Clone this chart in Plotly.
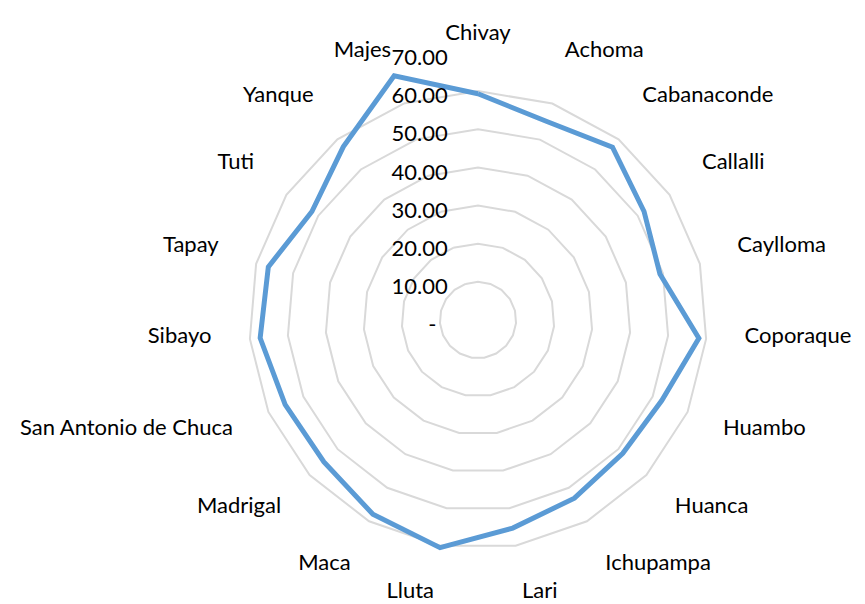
import plotly.graph_objects as go

distritos = ["Chivay", "Achoma", "Cabanaconde", "Callalli", "Caylloma", "Coporaque",
             "Huambo", "Huanca", "Ichupampa", "Lari", "Lluta", "Maca", "Madrigal",
             "San Antonio de Chuca", "Sibayo", "Tapay", "Tuti", "Yanque", "Majes"]
valores = [59.3, 55.1, 57.4, 52.0, 49.2, 58.1, 52.6, 51.6, 53.1, 55.3,
           60.5, 57.9, 54.9, 55.2, 57.3, 56.7, 52.0, 57.5, 67.7]
tick_vals = [0, 10, 20, 30, 40, 50, 60, 70]
tick_text = ["-\u00a0\u00a0", "10.00", "20.00", "30.00", "40.00", "50.00", "60.00", "70.00"]

# close the loop
r = valores + valores[:1]
theta = distritos + distritos[:1]

fig = go.Figure()
fig.add_trace(go.Scatterpolar(r=r, theta=theta, mode="lines",
                              line=dict(color="#5B9BD5", width=5)))
# extra polars only carry labels, nudged like Excel does (categories up, values down)
for sp in ["polar2", "polar3"]:
    fig.add_trace(go.Scatterpolar(r=valores, theta=distritos, mode="lines", subplot=sp,
                                  line=dict(width=0), opacity=0, hoverinfo="skip"))

ang_common = dict(direction="clockwise", rotation=90, showline=False, showgrid=False)
dom_x = [0.2439, 0.8613]
dom_y = [0.0281, 0.9123]
up = 8.5 / 604
down = 5 / 604

fig.update_layout(
    width=865, height=604,
    margin=dict(l=0, r=0, t=0, b=0),
    paper_bgcolor="white",
    showlegend=False,
    font=dict(family="Lato", size=22, color="#000000"),
    polar=dict(
        domain=dict(x=dom_x, y=dom_y),
        bgcolor="white",
        gridshape="linear",
        angularaxis=dict(**ang_common, ticks="", showticklabels=False),
        radialaxis=dict(range=[0, 70], tickvals=tick_vals, angle=90,
                        showline=False, showticklabels=False, ticks="",
                        gridcolor="#D9D9D9", gridwidth=1.5),
    ),
    polar2=dict(
        domain=dict(x=dom_x, y=[dom_y[0] + up, dom_y[1] + up]),
        bgcolor="rgba(0,0,0,0)",
        gridshape="linear",
        angularaxis=dict(**ang_common, ticks="", tickfont=dict(size=22)),
        radialaxis=dict(range=[0, 70], visible=False),
    ),
    polar3=dict(
        domain=dict(x=dom_x, y=[dom_y[0] - down, dom_y[1] - down]),
        bgcolor="rgba(0,0,0,0)",
        gridshape="linear",
        angularaxis=dict(**ang_common, visible=False),
        radialaxis=dict(range=[0, 70], tickvals=tick_vals, ticktext=tick_text,
                        angle=90, tickangle=90, side="counterclockwise",
                        showline=False, showgrid=False,
                        ticks="outside", ticklen=22, tickcolor="rgba(0,0,0,0)",
                        tickfont=dict(size=22)),
    ),
)

# page body has a default 8px margin
fig.write_html("out.html", config={"displayModeBar": False},
               post_script="document.body.style.margin='0px';")
